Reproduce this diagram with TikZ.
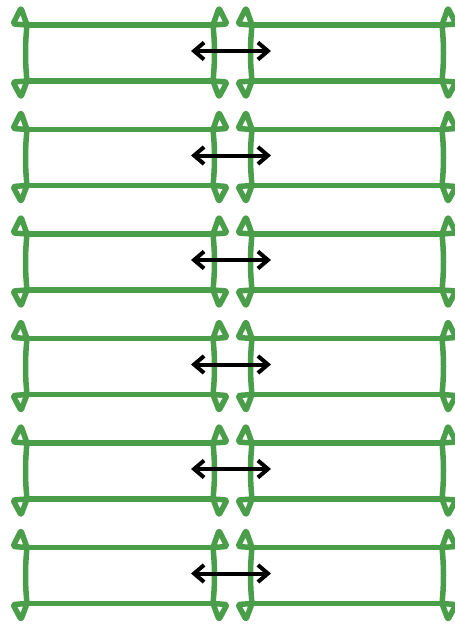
\documentclass[tikz,border=0pt]{standalone}
\usetikzlibrary{arrows.meta}
\definecolor{memgreen}{RGB}{74,158,74}
\begin{document}
\begin{tikzpicture}[x=1pt,y=-1pt,
  strand/.style={draw=memgreen,line width=5.5pt,line cap=round,line join=round},
  loopend/.style={strand,rounded corners=2pt},
  swap/.style={{Straight Barb[length=10pt,width=17pt]}-{Straight Barb[length=10pt,width=17pt]},line width=4pt}]
\useasboundingbox (0,0) rectangle (455,625);
\foreach \i in {0,...,5}{
  \pgfmathsetmacro{\ytop}{25+104.5*\i}
  \pgfmathsetmacro{\ybot}{\ytop+56}
  % the two strands of each sheet
  \foreach \xa/\xb in {27/213,252/442}{
    \draw[strand] (\xa,\ytop) -- (\xb,\ytop);
    \draw[strand] (\xa,\ybot) -- (\xb,\ybot);
  }
  % curled ends, s gives the side they open to
  \foreach \x/\s in {27/-1,213/1,252/-1,442/1}{
    \draw[loopend] (\x,\ytop) -- ({\s*6+\x},\ytop-17) -- ({\s*14+\x},\ytop-1) -- cycle;
    \draw[strand] (\x,\ytop) .. controls ({\s*2+\x},\ytop+20) and ({\s*2+\x},\ybot-20) .. (\x,\ybot);
    \draw[loopend] (\x,\ybot) -- ({\s*6+\x},\ybot+16) -- ({\s*14+\x},\ybot+1) -- cycle;
  }
  \coordinate (l\i) at (191,\ytop+26);
  \coordinate (r\i) at (271,\ytop+26);
  \draw[swap] (l\i) -- (r\i);
}
\end{tikzpicture}
\end{document}
